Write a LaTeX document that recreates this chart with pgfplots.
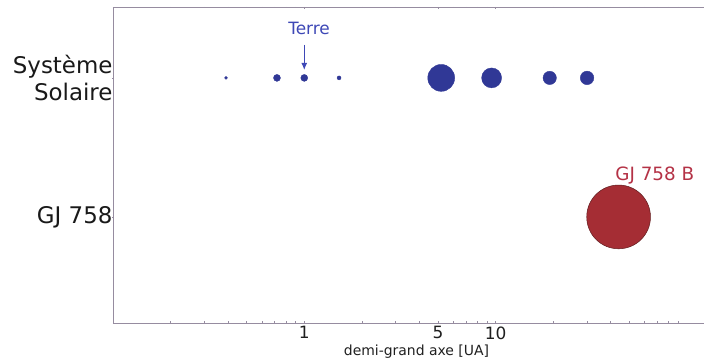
\documentclass[border=0pt]{standalone}
\usepackage{fontspec}
\setmainfont{DejaVu Sans}
\usepackage{pgfplots}
\pgfplotsset{compat=1.18}
\usetikzlibrary{arrows.meta}
\definecolor{pblue}{RGB}{48,56,150}
\definecolor{tblue}{RGB}{62,72,182}
\definecolor{pred}{RGB}{165,45,52}
\definecolor{pedge}{RGB}{95,28,30}
\definecolor{tred}{RGB}{180,50,70}
\definecolor{spine}{RGB}{150,140,160}
\pgfplotsset{planet/.style={only marks, mark=*, mark size=#1, mark options={draw=pblue, fill=pblue}}}
\begin{document}
\begin{tikzpicture}
\begin{axis}[
  name=ax,
  scale only axis,
  width=591bp, height=316bp,
  xmode=log,
  xmin=0.1, xmax=123,
  ymin=-0.763, ymax=1.51,
  axis x line=box, axis y line=left,
  axis line style={-, draw=spine, line width=0.6pt},
  xtick={1,5,10}, xticklabels={1,5,10},
  minor xtick={0.2,0.3,0.4,0.5,0.6,0.7,0.8,0.9,2,3,4,6,7,8,9,20,30,40,50,60,70,80,90},
  ytick={0,1}, yticklabels={GJ 758,{Système\\Solaire}},
  major tick length=2bp, minor tick length=1.5bp,
  every tick/.style={draw=spine, line width=0.4pt},
  xticklabel style={font=\fontsize{17}{20}\selectfont, text=black!88},
  yticklabel style={font=\fontsize{23}{27.5}\selectfont, align=right, text=black!90, xshift=4bp},
  xlabel={demi-grand axe [UA]},
  xlabel style={font=\fontsize{14}{16}\selectfont, text=black!88, xshift=8bp, yshift=1bp},
  clip=false,
]
% Mercure, Venus, Terre, Mars, Jupiter, Saturne, Uranus, Neptune
\addplot[planet=1.5] coordinates {(0.39,1)};
\addplot[planet=3.5] coordinates {(0.72,1)};
\addplot[planet=3.5] coordinates {(1.00,1)};
\addplot[planet=2.0] coordinates {(1.52,1)};
\addplot[planet=13.5] coordinates {(5.20,1)};
\addplot[planet=10.0] coordinates {(9.54,1)};
\addplot[planet=6.7] coordinates {(19.2,1)};
\addplot[planet=6.8] coordinates {(30.1,1)};
% GJ 758 B
\addplot[only marks, mark=*, mark size=32, mark options={draw=pedge, fill=pred, line width=0.5pt}]
  coordinates {(44,0)};
\draw[-{Latex[length=7bp,width=6bp]}, draw=tblue, fill=tblue, line width=0.8pt]
  (axis cs:1,1.237) -- (axis cs:1,1.058);
\node[text=tblue, font=\fontsize{17}{20}\selectfont] at (axis cs:1.06,1.353) {Terre};
\node[text=tred, font=\fontsize{18.4}{22}\selectfont, anchor=west, inner sep=0pt] at (axis cs:42.2,0.295) {GJ 758 B};
\end{axis}
\pgfresetboundingbox
\path[use as bounding box] ([shift={(-113bp,-38bp)}]ax.south west) rectangle ([shift={(1bp,7bp)}]ax.north east);
\end{tikzpicture}
\end{document}
